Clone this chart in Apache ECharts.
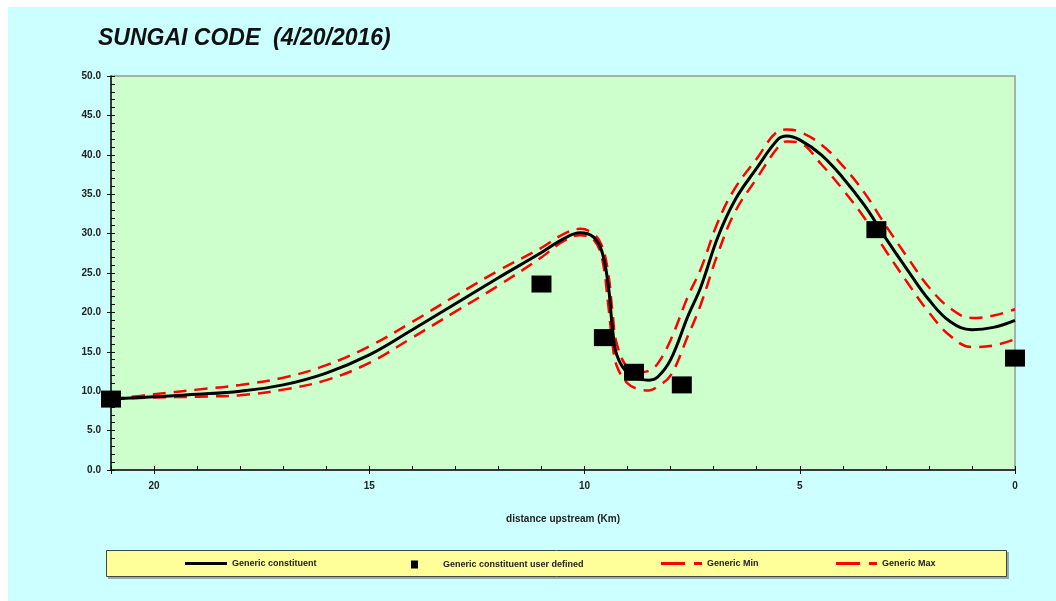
<!DOCTYPE html>
<html>
<head>
<meta charset="utf-8">
<script src="https://cdn.jsdelivr.net/npm/echarts@6/dist/echarts.min.js"></script>
<style>
  html, body { margin: 0; padding: 0; background: #fff; }
  #chart { width: 1056px; height: 601px; }
</style>
</head>
<body>
<div id="chart"></div>
<script>
// distance upstream (Km)
const distance = [21, 20, 19, 18, 17, 16, 15, 14, 13, 12, 11, 10.5, 10.1, 9.8, 9.6, 9.45, 9.35, 9.25, 9.0, 8.7, 8.5, 8.3, 8.0, 7.6, 7.3, 6.9, 6.5, 6.0, 5.5, 5.3, 5.0, 4.5, 4.0, 3.5, 3.0, 2.5, 2.0, 1.5, 1.0, 0.5, 0];
const constituent = [9.0, 9.3, 9.6, 10.0, 10.8, 12.3, 14.6, 17.8, 21.1, 24.4, 27.6, 29.3, 30.1, 29.6, 27.8, 23.5, 18.0, 14.6, 12.3, 11.5, 11.4, 11.8, 14.0, 19.5, 23.2, 29.6, 34.3, 38.3, 42.0, 42.4, 41.9, 40.0, 37.1, 33.6, 29.4, 25.4, 21.6, 18.8, 17.8, 18.1, 19.0];
const genericMax = [9.0, 9.6, 10.2, 10.8, 11.7, 13.3, 15.7, 18.8, 22.1, 25.3, 28.2, 29.9, 30.6, 30.0, 28.5, 25.0, 20.0, 16.0, 13.0, 12.4, 12.6, 13.5, 16.5, 22.0, 25.5, 31.5, 35.8, 39.5, 43.0, 43.2, 42.9, 41.3, 38.6, 35.2, 31.0, 27.0, 23.2, 20.5, 19.3, 19.6, 20.4];
const genericMin = [9.0, 9.2, 9.3, 9.5, 10.2, 11.4, 13.6, 16.8, 20.1, 23.4, 27.0, 29.0, 29.8, 29.3, 27.0, 21.0, 16.0, 13.2, 11.0, 10.2, 10.1, 10.6, 12.0, 17.0, 21.0, 27.5, 32.8, 37.0, 41.0, 41.7, 41.5, 38.8, 35.6, 32.0, 27.8, 23.8, 20.0, 17.0, 15.6, 15.8, 16.6];
// user defined observations
const obsDistance = [21, 11.0, 9.55, 8.85, 7.74, 3.22, 0];
const obsValue = [9.0, 23.6, 16.8, 12.4, 10.8, 30.5, 14.2];

const pairs = (xs, ys) => xs.map((x, i) => [x, ys[i]]);

const myChart = echarts.init(document.getElementById('chart'));
const legendText = {
  fontSize: 9,
  fontWeight: 'bold',
  color: '#222',
  fontFamily: 'Liberation Sans, Arial, sans-serif'
};
const axisFont = {
  fontSize: 10,
  fontWeight: 'bold',
  color: '#222',
  fontFamily: 'Liberation Sans, Arial, sans-serif'
};
const solidIcon = 'path://M0,0h42v3h-42z';
const dashIcon = 'path://M0,0h24v3h-24zM33,0h8v3h-8z';

// the outer halves of the major ticks are drawn by a second, label-less axis
const tickOnly = {
  axisLine: { show: false },
  axisLabel: { show: false },
  splitLine: { show: false },
  axisTick: { show: true, length: 4, lineStyle: { color: '#111' } }
};

let option = {
  animation: false,
  backgroundColor: '#fff',
  graphic: [
    { type: 'rect', z: -10, shape: { x: 8, y: 7, width: 1048, height: 594 }, style: { fill: '#ccffff' } },
    { type: 'rect', z: -5, shape: { x: 108, y: 552, width: 901, height: 27 }, style: { fill: '#99aaaa' } },
    { type: 'rect', z: -4, shape: { x: 106.5, y: 550.5, width: 900, height: 26 }, style: { fill: '#ffff99', stroke: '#444', lineWidth: 1 } }
  ],
  title: {
    text: 'SUNGAI CODE  (4/20/2016)',
    left: 93,
    top: 22,
    textStyle: {
      fontSize: 23,
      fontWeight: 'bold',
      fontStyle: 'italic',
      color: '#111',
      fontFamily: 'Liberation Sans, Arial, sans-serif'
    }
  },
  grid: {
    left: 111,
    right: 41,
    top: 76,
    bottom: 131,
    show: true,
    backgroundColor: '#ccffcc',
    borderColor: '#999',
    borderWidth: 1.5
  },
  legend: [
    { data: [{ name: 'Generic constituent', icon: solidIcon }], left: 180, top: 554, itemWidth: 42, itemHeight: 3, textStyle: legendText },
    { data: ['Generic constituent user defined'], left: 406, top: 555, itemWidth: 7, itemHeight: 8, textStyle: Object.assign({ padding: [0, 0, 0, 20] }, legendText) },
    { data: [{ name: 'Generic Min', icon: dashIcon }], left: 656, top: 554, itemWidth: 41, itemHeight: 3, textStyle: legendText },
    { data: [{ name: 'Generic Max', icon: dashIcon }], left: 831, top: 554, itemWidth: 41, itemHeight: 3, textStyle: legendText }
  ],
  xAxis: [
    {
      type: 'value',
      inverse: true,
      min: 0,
      max: 21,
      interval: 5,
      name: 'distance upstream (Km)',
      nameLocation: 'middle',
      nameGap: 44,
      nameTextStyle: axisFont,
      axisLine: { show: true, onZero: false, lineStyle: { color: '#111', width: 1.5 } },
      axisTick: { show: true, inside: true, length: 4, lineStyle: { color: '#111' } },
      minorTick: { show: true, splitNumber: 5, length: 4, lineStyle: { color: '#111' } },
      axisLabel: Object.assign({ margin: 11, showMaxLabel: false }, axisFont),
      splitLine: { show: false }
    },
    Object.assign({ type: 'value', inverse: true, min: 0, max: 21, interval: 5, position: 'bottom' }, tickOnly, {
      axisLine: { show: false, onZero: false },
      axisTick: { show: true, length: 4, lineStyle: { color: '#111' } }
    })
  ],
  yAxis: [
    {
      type: 'value',
      min: 0,
      max: 50,
      interval: 5,
      axisLine: { show: true, onZero: false, lineStyle: { color: '#111', width: 1.5 } },
      axisTick: { show: true, inside: true, length: 4, lineStyle: { color: '#111' } },
      minorTick: { show: true, splitNumber: 5, length: 4, lineStyle: { color: '#111' } },
      axisLabel: Object.assign({ margin: 10, formatter: v => v.toFixed(1) }, axisFont),
      splitLine: { show: false }
    },
    Object.assign({ type: 'value', min: 0, max: 50, interval: 5, position: 'left' }, tickOnly, {
      axisLine: { show: false, onZero: false },
      axisTick: { show: true, length: 4, lineStyle: { color: '#111' } }
    })
  ],
  series: [
    {
      name: 'Generic Min',
      type: 'line',
      smooth: 0.4,
      symbol: 'none',
      data: pairs(distance, genericMin),
      lineStyle: { color: '#ff0000', width: 2.5, type: [13, 8] },
      itemStyle: { color: '#ff0000' },
      z: 2
    },
    {
      name: 'Generic Max',
      type: 'line',
      smooth: 0.4,
      symbol: 'none',
      data: pairs(distance, genericMax),
      lineStyle: { color: '#ff0000', width: 2.5, type: [13, 8] },
      itemStyle: { color: '#ff0000' },
      z: 2
    },
    {
      name: 'Generic constituent',
      type: 'line',
      smooth: 0.4,
      symbol: 'none',
      data: pairs(distance, constituent),
      lineStyle: { color: '#000', width: 3 },
      itemStyle: { color: '#000' },
      z: 3
    },
    {
      name: 'Generic constituent user defined',
      type: 'scatter',
      symbol: 'rect',
      symbolSize: [20, 17],
      data: pairs(obsDistance, obsValue),
      itemStyle: { color: '#000', opacity: 1 },
      z: 4
    }
  ]
};
myChart.setOption(option);
</script>
</body>
</html>
